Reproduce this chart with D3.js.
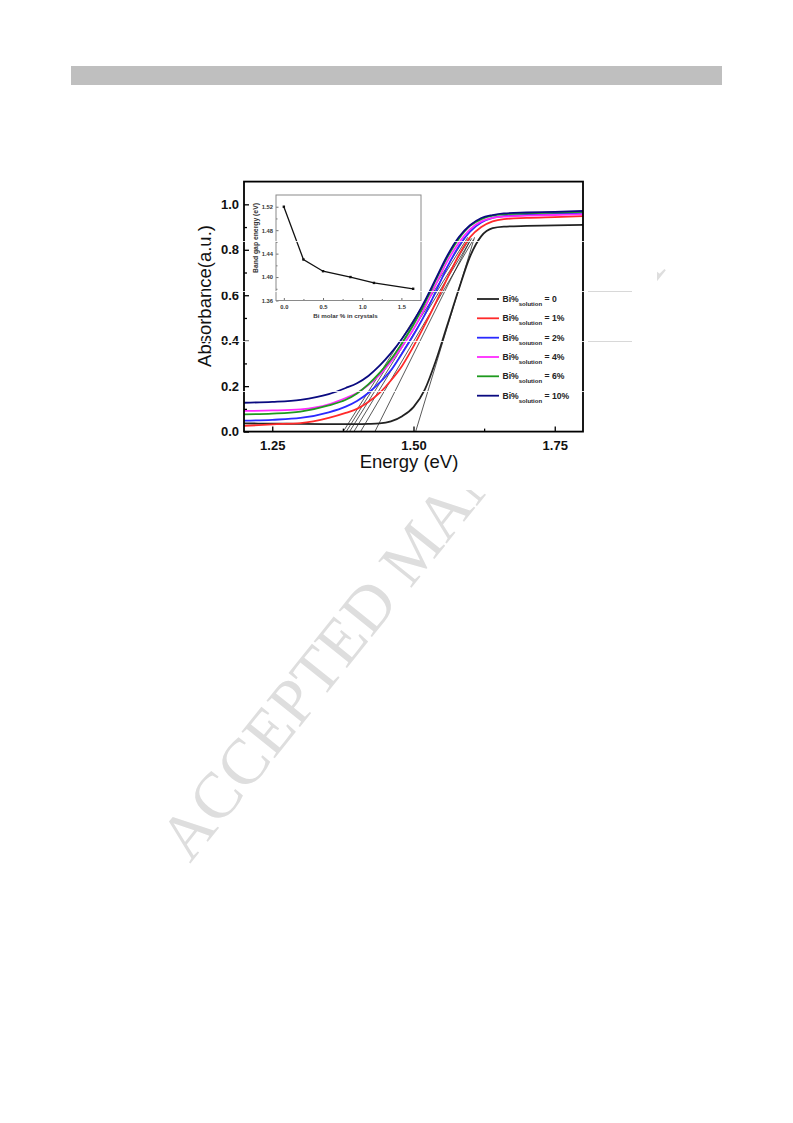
<!DOCTYPE html>
<html><head><meta charset="utf-8">
<script src="https://cdn.jsdelivr.net/npm/d3@7"></script>
<style>body{margin:0;background:#fff} svg{display:block}</style>
</head><body>
<svg id="c" width="793" height="1123"></svg>
<script>
// ---------- data ----------
const energies = [1.20,1.25,1.30,1.35,1.38,1.40,1.42,1.44,1.46,1.48,1.50,1.52,1.54,1.56,1.58,1.60,1.62,1.64,1.66,1.70,1.75,1.80];
const absBi0   = [0.036,0.035,0.034,0.033,0.033,0.033,0.034,0.036,0.045,0.068,0.108,0.185,0.315,0.47,0.625,0.77,0.86,0.895,0.902,0.905,0.907,0.91];
const absBi1   = [0.025,0.032,0.037,0.060,0.082,0.100,0.130,0.170,0.225,0.290,0.375,0.470,0.570,0.675,0.775,0.855,0.900,0.925,0.935,0.940,0.944,0.948];
const absBi2   = [0.048,0.052,0.060,0.085,0.110,0.135,0.170,0.215,0.270,0.345,0.425,0.515,0.620,0.725,0.815,0.880,0.920,0.940,0.948,0.953,0.958,0.962];
const absBi4   = [0.091,0.093,0.098,0.120,0.148,0.170,0.205,0.250,0.308,0.375,0.450,0.545,0.650,0.750,0.830,0.890,0.925,0.940,0.946,0.950,0.953,0.956];
const absBi6   = [0.076,0.079,0.088,0.115,0.140,0.168,0.208,0.258,0.318,0.390,0.470,0.565,0.670,0.768,0.848,0.905,0.935,0.950,0.956,0.960,0.964,0.967];
const absBi10  = [0.127,0.131,0.140,0.165,0.192,0.213,0.245,0.290,0.345,0.410,0.485,0.575,0.675,0.775,0.855,0.908,0.940,0.953,0.960,0.964,0.967,0.971];
const seriesLabels = ["0","1%","2%","4%","6%","10%"];
const seriesColors = ["#222222","#ff2a2a","#2a2aff","#ff2aff","#1e9a1e","#0a0a80"];
const seriesValues = [absBi0,absBi1,absBi2,absBi4,absBi6,absBi10];

// tangent (band-gap extrapolation) lines
const tangentIntercepts = [1.3756,1.381,1.3868,1.3945,1.4063,1.4317,1.5038];
const tangentEndE = [1.592,1.596,1.600,1.603,1.606,1.600,1.608];
const tangentEndA = [0.855,0.855,0.850,0.850,0.845,0.840,0.855];

// inset: band gap vs Bi content
const insetBiMolar = [0,0.25,0.5,0.85,1.15,1.65];
const insetBandGap = [1.52,1.43,1.41,1.40,1.39,1.38];

// ticks
const xMajorTicks = [1.25,1.50,1.75];
const xMinorTicks = [1.375,1.625];
const yMajorTicks = [0,0.2,0.4,0.6,0.8,1.0];
const yMinorTicks = [0.1,0.3,0.5,0.7,0.9];
const insetXTicks = [0,0.5,1.0,1.5];
const insetXMinor = [0.25,0.75,1.25];
const insetYTicks = [1.36,1.40,1.44,1.48,1.52];
const insetYMinor = [1.38,1.42,1.46,1.50];

// ---------- drawing ----------
const svg = d3.select("#c");
const SANS = "'Liberation Sans', Arial, sans-serif";

// page header bar
svg.append("rect").attr("x",71).attr("y",66).attr("width",651).attr("height",19).attr("fill","#bfbfbf");

// watermark (behind the figure)
svg.append("text").attr("transform","translate(190,864) rotate(-51.3)")
  .attr("font-family","'Liberation Serif', 'Times New Roman', serif").attr("font-size",65)
  .attr("fill","#dedede").text("ACCEPTED MANUSCRIPT");
// figure white background
svg.append("rect").attr("x",186).attr("y",172).attr("width",471).attr("height",318).attr("fill","#fff");

const x = d3.scaleLinear().domain([1.2,1.8]).range([244,583]);
const y = d3.scaleLinear().domain([0,1.1]).range([431.6,181.6]);

const plot = svg.append("g");
plot.append("defs").append("clipPath").attr("id","clipMain")
  .append("rect").attr("x",244).attr("y",181.6).attr("width",339).attr("height",250);

// tangent lines
const tl = plot.append("g").attr("clip-path","url(#clipMain)");
tangentIntercepts.forEach((e0,i)=>{
  tl.append("line").attr("x1",x(e0)).attr("y1",y(0)).attr("x2",x(tangentEndE[i])).attr("y2",y(tangentEndA[i]))
    .attr("stroke","#111").attr("stroke-width",0.7);
});

// curves
const line = d3.line().x(d=>x(d[0])).y(d=>y(d[1])).curve(d3.curveMonotoneX);
const cg = plot.append("g").attr("clip-path","url(#clipMain)");
seriesValues.forEach((vals,i)=>{
  cg.append("path").datum(energies.map((e,j)=>[e,vals[j]]))
    .attr("d",line).attr("fill","none").attr("stroke",seriesColors[i]).attr("stroke-width",1.8);
});

// axes
const xAxis = d3.axisBottom(x).tickValues(xMajorTicks).tickFormat(d3.format(".2f"))
  .tickSizeInner(-5).tickSizeOuter(0).tickPadding(9);
const xAxisMinor = d3.axisBottom(x).tickValues(xMinorTicks).tickFormat("").tickSizeInner(-3).tickSizeOuter(0);
const yAxis = d3.axisLeft(y).tickValues(yMajorTicks).tickFormat(d3.format(".1f"))
  .tickSizeInner(-5).tickSizeOuter(0).tickPadding(5);
const yAxisMinor = d3.axisLeft(y).tickValues(yMinorTicks).tickFormat("").tickSizeInner(-3).tickSizeOuter(0);

function styleAxis(g, fs){
  g.select(".domain").remove();
  g.selectAll("line").attr("stroke","#000").attr("stroke-width",1.3);
  g.selectAll("text").attr("font-family",SANS).attr("font-weight","bold").attr("font-size",fs).attr("fill","#111");
}
plot.append("g").attr("transform","translate(0,431.6)").call(xAxis).call(g=>styleAxis(g,13));
plot.append("g").attr("transform","translate(0,431.6)").call(xAxisMinor).call(g=>styleAxis(g,13));
plot.append("g").attr("transform","translate(244,0)").call(yAxis).call(g=>styleAxis(g,13));
plot.append("g").attr("transform","translate(244,0)").call(yAxisMinor).call(g=>styleAxis(g,13));

// frame
plot.append("rect").attr("x",244).attr("y",181.6).attr("width",339).attr("height",250)
  .attr("fill","none").attr("stroke","#000").attr("stroke-width",1.8);

// axis titles
svg.append("text").attr("x",409).attr("y",468).attr("text-anchor","middle")
  .attr("font-family",SANS).attr("font-size",18.5).attr("fill","#111").text("Energy (eV)");
svg.append("text").attr("transform","translate(211,296) rotate(-90)").attr("text-anchor","middle")
  .attr("font-family",SANS).attr("font-size",18.5).attr("fill","#111").text("Absorbance(a.u.)");

// legend
const legendRowsY = [299,318.3,337.7,357,376.3,395.7];
seriesLabels.forEach((lab,i)=>{
  const ly = legendRowsY[i];
  svg.append("line").attr("x1",477).attr("x2",499).attr("y1",ly).attr("y2",ly)
    .attr("stroke",seriesColors[i]).attr("stroke-width",1.8);
  const t = svg.append("text").attr("x",502.5).attr("y",ly+3)
    .attr("font-family",SANS).attr("font-weight","bold").attr("font-size",8.6).attr("fill","#222");
  t.append("tspan").text("Bi%");
  t.append("tspan").attr("dy",4).attr("font-size",6).text("solution");
  t.append("tspan").attr("dy",-4).text("\u00a0= " + lab);
});

// ---------- inset ----------
const xi = d3.scaleLinear().domain([-0.1,1.75]).range([276,421]);
const yi = d3.scaleLinear().domain([1.36,1.54]).range([300.5,195]);
const inset = svg.append("g");
inset.append("rect").attr("x",276).attr("y",195).attr("width",145).attr("height",105.5)
  .attr("fill","#fff").attr("stroke","none");

const ixAxis = d3.axisBottom(xi).tickValues(insetXTicks).tickFormat(d3.format(".1f")).tickSizeInner(-2.5).tickSizeOuter(0).tickPadding(4);
const ixMinor = d3.axisBottom(xi).tickValues(insetXMinor).tickFormat("").tickSizeInner(-1.5).tickSizeOuter(0);
const iyAxis = d3.axisLeft(yi).tickValues(insetYTicks).tickFormat(d3.format(".2f")).tickSizeInner(-2.5).tickSizeOuter(0).tickPadding(3);
const iyMinor = d3.axisLeft(yi).tickValues(insetYMinor).tickFormat("").tickSizeInner(-1.5).tickSizeOuter(0);
function styleInset(g){
  g.select(".domain").remove();
  g.selectAll("line").attr("stroke","#333").attr("stroke-width",0.7);
  g.selectAll("text").attr("font-family",SANS).attr("font-weight","bold").attr("font-size",5.8).attr("fill","#333");
}
inset.append("g").attr("transform","translate(0,300.5)").call(ixAxis).call(styleInset);
inset.append("g").attr("transform","translate(0,300.5)").call(ixMinor).call(styleInset);
inset.append("g").attr("transform","translate(276,0)").call(iyAxis).call(styleInset);
inset.append("g").attr("transform","translate(276,0)").call(iyMinor).call(styleInset);

const iline = d3.line().x((d,i)=>xi(insetBiMolar[i])).y(d=>yi(d));
inset.append("path").datum(insetBandGap).attr("d",iline).attr("fill","none").attr("stroke","#111").attr("stroke-width",1.3);
inset.selectAll("rect.pt").data(insetBandGap).join("rect").attr("class","pt")
  .attr("x",(d,i)=>xi(insetBiMolar[i])-1.2).attr("y",d=>yi(d)-1.2).attr("width",2.4).attr("height",2.4).attr("fill","#111");

inset.append("rect").attr("x",276).attr("y",195).attr("width",145).attr("height",105.5)
  .attr("fill","none").attr("stroke","#8a8a8a").attr("stroke-width",1);

inset.append("text").attr("x",345.5).attr("y",317.5).attr("text-anchor","middle")
  .attr("font-family",SANS).attr("font-weight","bold").attr("font-size",6.2).attr("fill","#333").text("Bi molar % in crystals");
inset.append("text").attr("transform","translate(258,238) rotate(-90)").attr("text-anchor","middle")
  .attr("font-family",SANS).attr("font-weight","bold").attr("font-size",6.8).attr("fill","#333").text("Band gap energy (eV)");

// scan artefacts: faint white lines across the figure
[241.5,291.5,341.5,391.5].forEach(yy=>{
  svg.append("line").attr("x1",190).attr("x2",584).attr("y1",yy).attr("y2",yy).attr("stroke","#fff").attr("stroke-width",1).attr("opacity",0.85);
});
[291.5,341.5].forEach(yy=>{
  svg.append("line").attr("x1",588).attr("x2",632).attr("y1",yy).attr("y2",yy).attr("stroke","#d8d8d8").attr("stroke-width",1);
});
</script>
</body></html>
